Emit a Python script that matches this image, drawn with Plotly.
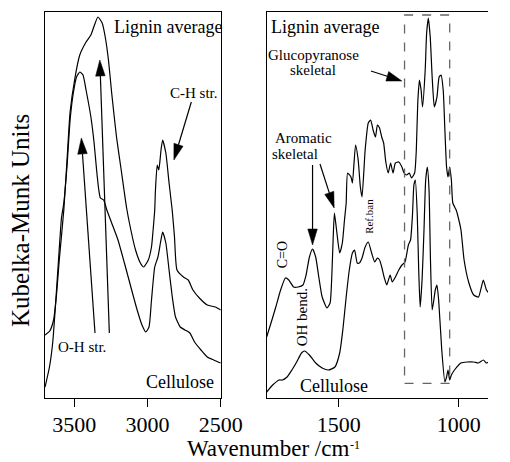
import math
import plotly.graph_objects as go

W, H = 510, 462

# ---------------- data ----------------
# Left panel: O-H / C-H stretching region
wn_left_lignin = [3700, 3668, 3642, 3622, 3603, 3572, 3550, 3529, 3496, 3463, 3420, 3387, 3365, 3339, 3310,
                  3289, 3267, 3245, 3212, 3180, 3143, 3114, 3082, 3049, 3027, 2995, 2973, 2962, 2951, 2946,
                  2934, 2923, 2908, 2897, 2875, 2853, 2831, 2816, 2799, 2755, 2722, 2690, 2646, 2592, 2537, 2500]
km_left_lignin = [0.63, 0.67, 0.78, 1.03, 1.38, 1.88, 2.38, 2.86, 3.20, 3.43, 3.56, 3.63, 3.72, 3.81, 3.75,
                  3.61, 3.38, 3.05, 2.61, 2.28, 1.90, 1.68, 1.48, 1.35, 1.31, 1.38, 1.51, 1.68, 1.88, 2.08,
                  2.33, 2.28, 2.48, 2.58, 2.45, 2.15, 1.87, 1.61, 1.28, 1.21, 1.18, 1.08, 1.00, 0.93, 0.91, 0.88]

wn_left_cell = [3700, 3670, 3648, 3631, 3609, 3588, 3572, 3550, 3529, 3507, 3485, 3463, 3441, 3420, 3387,
                3365, 3348, 3333, 3322, 3300, 3278, 3245, 3202, 3158, 3114, 3071, 3038, 3012, 2990, 2973,
                2951, 2929, 2912, 2897, 2875, 2853, 2831, 2809, 2777, 2744, 2711, 2679, 2635, 2592, 2548, 2500]
km_left_cell = [0.11, 0.31, 0.55, 0.88, 1.36, 1.80, 1.95, 2.32, 2.78, 3.05, 3.21, 3.26, 3.23, 3.08, 2.81,
                2.55, 2.28, 2.08, 2.00, 1.98, 1.88, 1.75, 1.58, 1.35, 1.11, 0.88, 0.73, 0.66, 0.71, 0.98,
                1.31, 1.41, 1.55, 1.66, 1.55, 1.28, 1.01, 0.81, 0.71, 0.68, 0.65, 0.56, 0.48, 0.41, 0.38, 0.35]

# Right panel: fingerprint region
wn_right_lignin = [1800, 1782, 1762, 1742, 1722, 1708, 1688, 1669, 1649, 1636, 1622, 1609, 1596, 1583, 1569,
                   1549, 1536, 1529, 1523, 1518, 1509, 1496, 1485, 1476, 1469, 1463, 1449, 1443, 1430, 1419,
                   1410, 1403, 1390, 1377, 1367, 1357, 1347, 1339, 1330, 1321, 1313, 1304, 1294, 1284, 1274,
                   1264, 1250, 1237, 1228, 1217, 1206, 1197, 1184, 1177, 1171, 1164, 1157, 1151, 1140, 1134,
                   1127, 1119, 1111, 1102, 1091, 1082, 1074, 1065, 1058, 1051, 1045, 1038, 1031, 1025, 1011,
                   1005, 991, 978, 958, 938, 918, 898, 885, 875]
km_right_lignin = [0.61, 0.75, 0.91, 1.08, 1.20, 1.18, 1.11, 1.11, 1.13, 1.23, 1.41, 1.49, 1.41, 1.21, 1.01,
                   0.90, 0.95, 1.21, 1.61, 1.85, 1.68, 1.45, 1.55, 1.78, 1.95, 2.25, 2.21, 2.15, 2.53, 2.38,
                   2.11, 2.01, 2.48, 2.75, 2.78, 2.68, 2.61, 2.73, 2.70, 2.61, 2.55, 2.36, 2.25, 2.35, 2.25,
                   2.35, 2.36, 2.31, 2.25, 2.23, 2.25, 2.20, 2.25, 2.48, 2.95, 3.18, 3.08, 2.91, 3.28, 3.65,
                   3.80, 3.61, 3.21, 2.91, 3.01, 3.21, 3.23, 3.08, 2.68, 2.31, 2.21, 2.31, 2.18, 1.95, 1.88,
                   1.83, 1.68, 1.38, 1.15, 1.03, 1.01, 1.18, 1.08, 1.05]

wn_right_cell = [1800, 1775, 1748, 1735, 1715, 1695, 1675, 1655, 1642, 1622, 1596, 1569, 1543, 1516, 1496,
                 1483, 1469, 1456, 1443, 1434, 1423, 1414, 1403, 1390, 1377, 1363, 1350, 1339, 1330, 1321,
                 1310, 1300, 1286, 1277, 1264, 1250, 1237, 1224, 1210, 1201, 1193, 1187, 1181, 1173, 1167,
                 1161, 1153, 1145, 1138, 1131, 1124, 1118, 1111, 1104, 1098, 1091, 1084, 1071, 1058, 1051,
                 1045, 1038, 1031, 1018, 991, 965, 938, 918, 898, 885, 875]
km_right_cell = [0.06, 0.13, 0.18, 0.18, 0.21, 0.28, 0.36, 0.45, 0.47, 0.43, 0.35, 0.30, 0.28, 0.31, 0.45,
                 0.68, 1.01, 1.28, 1.45, 1.48, 1.35, 1.35, 1.40, 1.51, 1.56, 1.45, 1.36, 1.40, 1.38, 1.31,
                 1.20, 1.13, 1.23, 1.16, 1.21, 1.28, 1.33, 1.36, 1.53, 1.58, 1.83, 2.13, 2.18, 1.83, 1.28,
                 0.91, 1.18, 1.68, 2.18, 2.31, 2.08, 1.38, 0.88, 0.98, 1.08, 1.13, 0.98, 0.48, 0.16, 0.21,
                 0.28, 0.18, 0.23, 0.28, 0.35, 0.36, 0.36, 0.35, 0.38, 0.35, 0.36]

left_ticks = [3500, 3000, 2500]
right_ticks = [1500, 1000]

# highlighted region (glucopyranose skeletal) in right panel
box_wn = [1226, 1038]
box_km = [0.147, 3.83]

# arrows: (panel, tail_wn, tail_km, head_wn, head_km)
arrows = [
    (0, 2701, 2.96, 2820, 2.38),   # C-H str.
    (0, 3359, 0.65, 3452, 2.60),   # O-H str. (1)
    (0, 3261, 0.65, 3326, 3.38),   # O-H str. (2)
    (1, 1366, 3.27, 1237, 3.17),   # Glucopyranose skeletal
    (1, 1578, 2.34, 1519, 1.90),   # Aromatic skeletal
    (1, 1609, 2.33, 1609, 1.53),   # OH bend
]

# ---------------- geometry ----------------
FONT = "Liberation Serif, Times New Roman, serif"
XL_PX = (47.1, 230.7)
XR_PX = (278.7, 510.0)
XL_RANGE = [3700, 2500]
XR_RANGE = [1800, 878.5]
Y_PX = (398.0, 12.0)   # bottom, top
Y_RANGE = [0, 3.86]


def px_to_paper(px, py):
    return px / W, 1 - py / H


def data_to_px(panel, wn, v):
    (a, b), (r0, r1) = (XL_PX, XL_RANGE) if panel == 0 else (XR_PX, XR_RANGE)
    px = a + (wn - r0) / (r1 - r0) * (b - a)
    py = Y_PX[0] - (v - Y_RANGE[0]) / (Y_RANGE[1] - Y_RANGE[0]) * (Y_PX[0] - Y_PX[1])
    return px, py


fig = go.Figure()
line_style = dict(color="black", width=1.2, shape="spline", smoothing=0.5)
fig.add_trace(go.Scatter(x=wn_left_lignin, y=km_left_lignin, mode="lines", line=line_style,
                         xaxis="x", yaxis="y", showlegend=False, hoverinfo="skip"))
fig.add_trace(go.Scatter(x=wn_left_cell, y=km_left_cell, mode="lines", line=line_style,
                         xaxis="x", yaxis="y", showlegend=False, hoverinfo="skip"))
fig.add_trace(go.Scatter(x=wn_right_lignin, y=km_right_lignin, mode="lines", line=line_style,
                         xaxis="x2", yaxis="y2", showlegend=False, hoverinfo="skip"))
fig.add_trace(go.Scatter(x=wn_right_cell, y=km_right_cell, mode="lines", line=line_style,
                         xaxis="x2", yaxis="y2", showlegend=False, hoverinfo="skip"))

shapes = []
shapes.append(dict(type="rect", xref="x2", yref="y2", x0=box_wn[0], x1=box_wn[1], y0=box_km[0], y1=box_km[1],
                   line=dict(color="#666666", width=1.3, dash="dash"), fillcolor="rgba(0,0,0,0)"))

HEAD_L, HEAD_W = 16.0, 5.0
for panel, twn, tkm, hwn, hkm in arrows:
    tx, ty = data_to_px(panel, twn, tkm)
    hx, hy = data_to_px(panel, hwn, hkm)
    dx, dy = hx - tx, hy - ty
    L = math.hypot(dx, dy)
    ux, uy = dx / L, dy / L
    bx, by = hx - ux * HEAD_L, hy - uy * HEAD_L
    p0 = px_to_paper(tx, ty)
    p1 = px_to_paper(bx, by)
    shapes.append(dict(type="line", xref="paper", yref="paper", x0=p0[0], y0=p0[1], x1=p1[0], y1=p1[1],
                       line=dict(color="black", width=1.2)))
    c1 = px_to_paper(bx - uy * HEAD_W, by + ux * HEAD_W)
    c2 = px_to_paper(bx + uy * HEAD_W, by - ux * HEAD_W)
    tip = px_to_paper(hx, hy)
    path = f"M {tip[0]},{tip[1]} L {c1[0]},{c1[1]} L {c2[0]},{c2[1]} Z"
    shapes.append(dict(type="path", xref="paper", yref="paper", path=path,
                       fillcolor="black", line=dict(color="black", width=0.5)))

annotations = []


def label(text, px, py, size, angle=0, xanchor="center", yanchor="middle", pad=1):
    x, y = px_to_paper(px, py)
    annotations.append(dict(text=text, x=x, y=y, xref="paper", yref="paper", showarrow=False,
                            xanchor=xanchor, yanchor=yanchor, textangle=angle, borderpad=pad,
                            font=dict(family=FONT, size=size, color="black")))


label("Lignin average", 176, 27, 18)
label("C-H str.", 203, 93, 15)
label("O-H str.", 86, 347, 15)
label("Cellulose", 188, 382, 18)

label("Lignin average", 340, 27, 18)
label("Glucopyranose", 328, 55, 15)
label("skeletal", 327, 70, 15)
label("Aromatic", 317, 138, 15)
label("skeletal", 308, 154, 15)
label("C=O", 295, 255, 14, -90)
label("OH bend.", 316, 317, 15, -90)
label("Ref.ban", 385.5, 216, 11, -90)
label("Cellulose", 349, 386, 18)

label("Kubelka-Munk Units", 22, 221, 25, -90)
# x-axis title, with its superscript as a small separate text
label("Wavenumber /cm", 366, 462, 23, 0, "right", "bottom", 0)
label("-1", 365, 445, 12, 0, "left", "middle", 0)

ax_common = dict(showline=True, linecolor="black", linewidth=1.2, showgrid=False, zeroline=False,
                 ticks="outside", ticklen=8, tickwidth=1.2, tickcolor="black", ticklabelstandoff=-2,
                 tickfont=dict(family=FONT, size=22, color="black"))
y_common = dict(showline=True, linecolor="black", linewidth=1.2, showgrid=False, zeroline=False,
                showticklabels=False, ticks="", range=Y_RANGE,
                domain=[1 - Y_PX[0] / H, 1 - Y_PX[1] / H])

fig.update_layout(
    width=W, height=H, autosize=False,
    margin=dict(l=0, r=0, t=0, b=0),
    paper_bgcolor="white", plot_bgcolor="white",
    xaxis=dict(**ax_common, domain=[XL_PX[0] / W, XL_PX[1] / W], range=XL_RANGE,
               tickvals=left_ticks, mirror=True, anchor="y"),
    yaxis=dict(**y_common, mirror=True, anchor="x"),
    xaxis2=dict(**ax_common, domain=[XR_PX[0] / W, XR_PX[1] / W], range=XR_RANGE,
                tickvals=right_ticks, mirror=True, anchor="y2"),
    yaxis2=dict(**y_common, mirror=False, anchor="x2"),
    shapes=shapes,
    annotations=annotations,
)

fig.write_html("out.html")
